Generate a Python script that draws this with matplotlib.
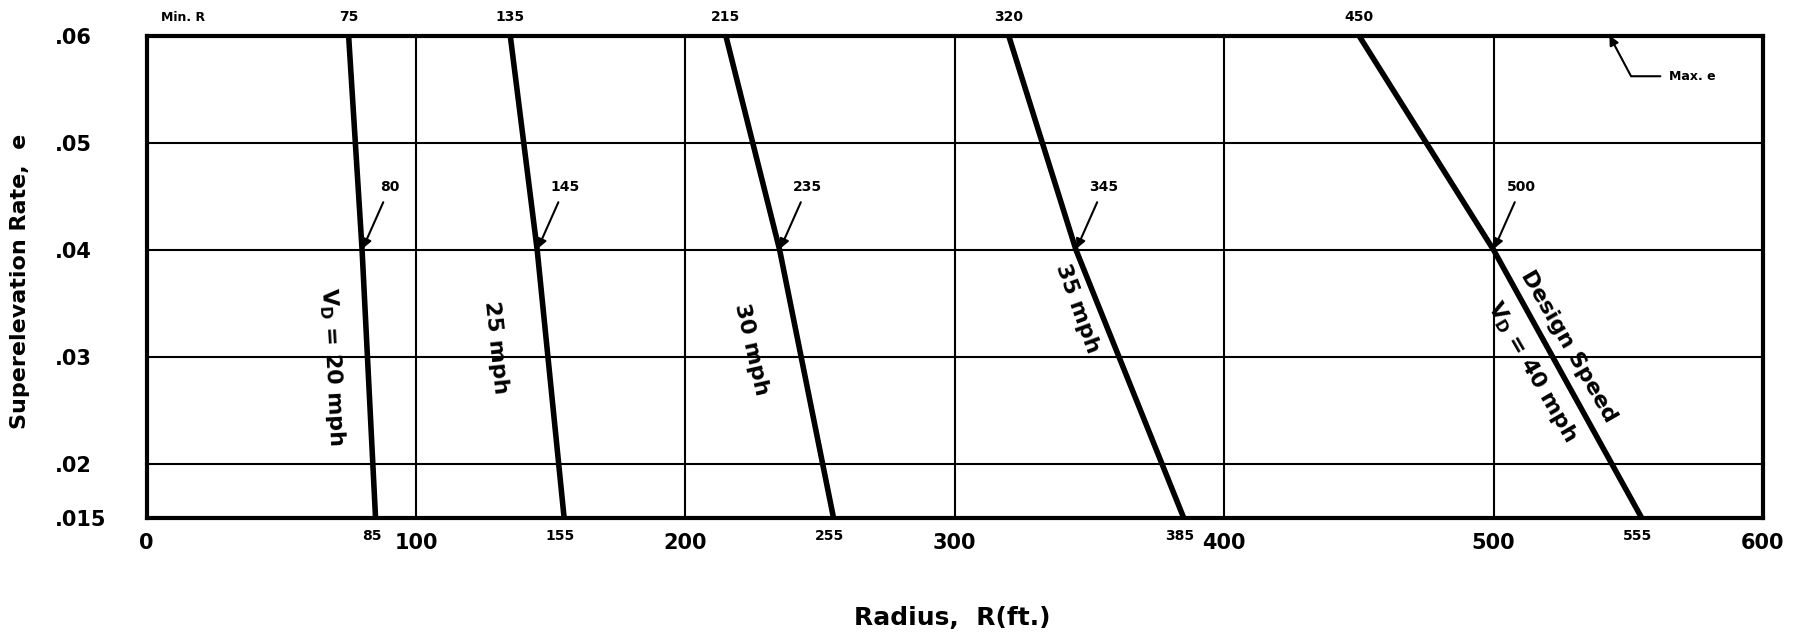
import matplotlib
matplotlib.use("Agg")
import matplotlib.pyplot as plt

plt.rcParams['font.family'] = ['DejaVu Sans']
plt.rcParams['mathtext.fontset'] = 'dejavusans'

# design speed curves: radius at e = .06, .04, .015
speeds = [20, 25, 30, 35, 40]
e_pts = [0.06, 0.04, 0.015]
r_top = [75, 135, 215, 320, 450]
r_mid = [80, 145, 235, 345, 500]
r_bot = [85, 155, 255, 385, 555]

xticks = [0, 100, 200, 300, 400, 500, 600]
yticks = [0.015, 0.02, 0.03, 0.04, 0.05, 0.06]
ytick_labels = ['.015', '.02', '.03', '.04', '.05', '.06']

fig = plt.figure(figsize=(17.96, 6.34), dpi=100)
ax = fig.add_axes([0.0816, 0.183, 0.9, 0.761])

for i in range(len(speeds)):
    ax.plot([r_top[i], r_mid[i], r_bot[i]], e_pts, color='black', lw=4,
            solid_capstyle='butt', zorder=3)

ax.set_xlim(0, 600)
ax.set_ylim(0.015, 0.06)
ax.set_xticks(xticks)
ax.set_yticks(yticks)
ax.set_yticklabels(ytick_labels, ha='left')
ax.tick_params(length=0, labelsize=15)
ax.tick_params(axis='x', pad=11)
ax.tick_params(axis='y', pad=66)
for lab in ax.get_xticklabels() + ax.get_yticklabels():
    lab.set_fontweight('bold')
ax.grid(True, color='black', lw=1.5)
for s in ax.spines.values():
    s.set_linewidth(3)

# min R labels along top, radius at e = .015 along bottom
ax.annotate('Min. R', xy=(13.5, 0.06), xytext=(0, 8), textcoords='offset points',
            ha='center', va='bottom', fontsize=9, fontweight='bold')
for r in r_top:
    ax.annotate(str(r), xy=(r, 0.06), xytext=(0, 8), textcoords='offset points',
                ha='center', va='bottom', fontsize=10, fontweight='bold')
for r in r_bot:
    ax.annotate(str(r), xy=(r, 0.015), xytext=(-3, -8), textcoords='offset points',
                ha='center', va='top', fontsize=10, fontweight='bold')

# radius at e = .04
for r in r_mid:
    ax.annotate(str(r), xy=(r, 0.04), xytext=(20, 40), textcoords='offset points',
                ha='center', va='bottom', fontsize=10, fontweight='bold',
                arrowprops=dict(arrowstyle='-|>', color='black', lw=1.5,
                                mutation_scale=14, shrinkA=4, shrinkB=1))

ax.annotate('Max. e', xy=(543, 0.06), xytext=(565, 0.0562), textcoords='data',
            ha='left', va='center', fontsize=9, fontweight='bold',
            arrowprops=dict(arrowstyle='-|>', color='black', lw=1.5,
                            mutation_scale=14, shrinkA=4, shrinkB=0,
                            connectionstyle='angle,angleA=180,angleB=-62,rad=0'))

# curve labels
lab_kw = dict(ha='center', va='center', fontsize=16, fontweight='bold')
ax.text(68.9, 0.0291, r'$\mathbf{V_D}$ = 20 mph', rotation=-87, **lab_kw)
ax.text(129.8, 0.0309, '25 mph', rotation=-84, **lab_kw)
ax.text(224.3, 0.0307, '30 mph', rotation=-77, **lab_kw)
ax.text(345.5, 0.0345, '35 mph', rotation=-70, **lab_kw)
ax.text(527.7, 0.0310, 'Design Speed', rotation=-60, **lab_kw)
ax.text(514.5, 0.0286, r'$\mathbf{V_D}$ = 40 mph', rotation=-60, **lab_kw)

fig.text(20 / 1796, 1 - 281 / 634, 'Superelevation Rate,  e', rotation=90,
         ha='center', va='center', fontsize=16, fontweight='bold')
fig.text(952 / 1796, 1 - 618 / 634, 'Radius,  R(ft.)', ha='center', va='center',
         fontsize=18, fontweight='bold')

fig.savefig('out.png', dpi=100)
